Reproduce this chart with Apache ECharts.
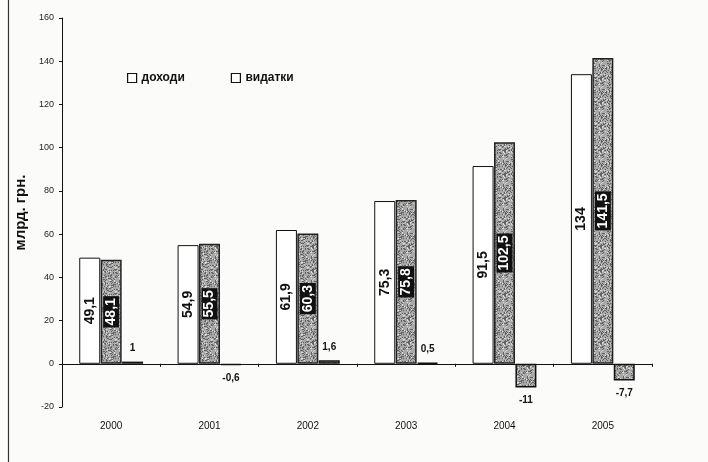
<!DOCTYPE html>
<html>
<head>
<meta charset="utf-8">
<script src="https://cdn.jsdelivr.net/npm/echarts@6/dist/echarts.min.js"></script>
<style>
  html, body { margin: 0; padding: 0; background: #fbfbfa; }
  #chart { width: 708px; height: 462px; }
</style>
</head>
<body>
<div id="chart"></div>
<script>
// Доходи, видатки та сальдо бюджету, млрд. грн.
const years = ['2000', '2001', '2002', '2003', '2004', '2005'];
const incomes = [49.1, 54.9, 61.9, 75.3, 91.5, 134];
const expenses = [48.1, 55.5, 60.3, 75.8, 102.5, 141.5];
const balance = [1, -0.6, 1.6, 0.5, -11, -7.7];
const yTicks = { min: -20, max: 160, step: 20 };

const FONT = '"Liberation Sans Narrow", "Liberation Sans", Arial, sans-serif';
const BOLD_FONT = '"Liberation Sans", Arial, sans-serif';

// grey speckled fill for the expense bars
function speckle(base) {
  const c = document.createElement('canvas');
  c.width = 24; c.height = 24;
  const g = c.getContext('2d');
  g.fillStyle = base;
  g.fillRect(0, 0, 24, 24);
  for (let y = 0; y < 24; y++) {
    for (let x = 0; x < 24; x++) {
      const h = Math.abs(Math.sin(x * 12.9898 + y * 78.233) * 43758.5453) % 1;
      if (h < 0.22) { g.fillStyle = 'rgba(40,40,40,0.55)'; g.fillRect(x, y, 1, 1); }
      else if (h > 0.85) { g.fillStyle = 'rgba(255,255,255,0.55)'; g.fillRect(x, y, 1, 1); }
    }
  }
  return { image: c, repeat: 'repeat' };
}
const grey = speckle('#a8a8a8');

const fmt = v => String(v).replace('.', ',');

const chart = echarts.init(document.getElementById('chart'), null, { renderer: 'canvas' });
chart.setOption({
  backgroundColor: '#fbfbfa',
  animation: false,
  graphic: [{
    type: 'line',
    shape: { x1: 8.5, y1: 0, x2: 8.5, y2: 462 },
    style: { stroke: '#333', lineWidth: 1.2 }
  }],
  legend: {
    left: 122, top: 67, icon: 'rect',
    itemWidth: 9, itemHeight: 9, itemGap: 46,
    textStyle: { fontFamily: FONT, fontSize: 12, fontWeight: 'bold', color: '#111' },
    data: [
      { name: 'доходи', itemStyle: { color: '#fff', borderColor: '#111', borderWidth: 1.2 } },
      { name: 'видатки', itemStyle: { color: '#fff', borderColor: '#111', borderWidth: 1.2 } }
    ]
  },
  grid: { left: 62, right: 56, top: 18, bottom: 55 },
  xAxis: [{
    type: 'category', data: years,
    axisLine: { onZero: true, lineStyle: { color: '#111', width: 1 } },
    axisTick: { show: true, length: 3, inside: false, lineStyle: { color: '#111' } },
    axisLabel: { show: false }
  }, {
    type: 'category', data: years, position: 'bottom',
    axisLine: { show: false, onZero: false }, axisTick: { show: false },
    axisLabel: { fontFamily: FONT, fontSize: 10, color: '#111', margin: 14 }
  }],
  yAxis: {
    type: 'value', min: yTicks.min, max: yTicks.max, interval: yTicks.step,
    name: 'млрд. грн.', nameLocation: 'middle', nameGap: 31,
    nameTextStyle: { fontFamily: BOLD_FONT, fontSize: 15, fontWeight: 'bold', color: '#111' },
    axisLine: { show: true, lineStyle: { color: '#111' } },
    axisTick: { show: true, length: 3, lineStyle: { color: '#111' } },
    axisLabel: { fontFamily: FONT, fontSize: 9, color: '#222', margin: 8 },
    splitLine: { show: false }
  },
  series: [{
    name: 'доходи', type: 'bar', data: incomes,
    barWidth: 21, barGap: '2%',
    itemStyle: { color: '#fff', borderColor: '#111', borderWidth: 1 },
    label: {
      show: true, position: 'inside', rotate: 90, formatter: p => fmt(p.value),
      fontFamily: BOLD_FONT, fontSize: 14, fontWeight: 'bold', color: '#111'
    }
  }, {
    name: 'видатки', type: 'bar', data: expenses,
    barWidth: 21,
    itemStyle: { color: grey, borderColor: '#222', borderWidth: 1.5 },
    label: {
      show: true, position: 'inside', rotate: 90, formatter: p => fmt(p.value),
      fontFamily: BOLD_FONT, fontSize: 14, fontWeight: 'bold', color: '#fff',
      backgroundColor: '#111', padding: [1, 2, 1, 2]
    }
  }, {
    name: 'сальдо', type: 'bar',
    data: balance.map(v => ({ value: v, label: { position: v < 0 ? 'bottom' : 'top' } })),
    barWidth: 21,
    itemStyle: { color: grey, borderColor: '#111', borderWidth: 1.5 },
    label: {
      show: true, formatter: p => fmt(p.value), distance: 8,
      fontFamily: FONT, fontSize: 10, fontWeight: 'bold', color: '#111'
    }
  }]
});
</script>
</body>
</html>
